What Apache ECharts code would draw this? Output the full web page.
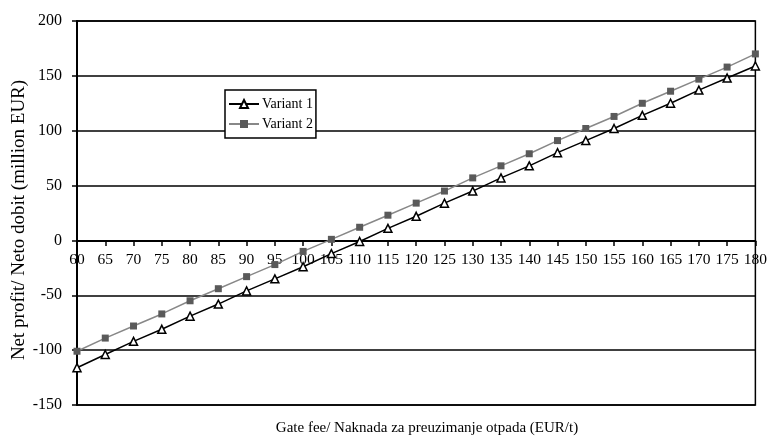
<!DOCTYPE html>
<html>
<head>
<meta charset="utf-8">
<script src="https://cdn.jsdelivr.net/npm/echarts@6/dist/echarts.min.js"></script>
<style>html,body{margin:0;padding:0;background:#fff}#c{width:770px;height:438px}</style>
</head>
<body>
<div id="c"></div>
<script>
const categories = ['60','65','70','75','80','85','90','95','100','105','110','115','120','125','130','135','140','145','150','155','160','165','170','175','180'];
const variant1 = [-116,-104,-92,-81,-69,-58,-46,-35,-24,-12,-1,11,22,34,45,57,68,80,91,102,114,125,137,148,159];
const variant2 = [-101,-89,-78,-67,-55,-44,-33,-22,-10,1,12,23,34,45,57,68,79,91,102,113,125,136,147,158,170];
const yTicks = {min:-150, max:200, interval:50};
const xTitle = 'Gate fee/ Naknada za preuzimanje otpada (EUR/t)';
const yTitle = 'Net profit/ Neto dobit (million EUR)';

const font = 'Liberation Serif';
const chart = echarts.init(document.getElementById('c'), null, {renderer:'canvas'});
chart.setOption({
  animation:false,
  backgroundColor:'#fff',
  textStyle:{fontFamily:font,color:'#000'},
  grid:{left:77,right:11,top:21,bottom:33,show:true,borderColor:'#000',borderWidth:1.5,backgroundColor:'transparent'},
  title:{text:xTitle,left:422,textAlign:'center',top:416,textStyle:{fontFamily:font,fontSize:15,fontWeight:'normal',color:'#000'}},
  graphic:[{type:'text',x:19,y:220,rotation:Math.PI/2,
    style:{text:yTitle,fontFamily:font,fontSize:19,fill:'#000',textAlign:'center',textVerticalAlign:'middle',verticalAlign:'middle'}}],
  legend:{
    orient:'vertical',left:225,top:90,
    padding:[7,3,7,3],itemGap:6,itemWidth:30,itemHeight:10,
    backgroundColor:'#fff',borderColor:'#000',borderWidth:1.5,borderRadius:0,
    textStyle:{fontFamily:font,fontSize:14,color:'#000',padding:[0,0,0,-2]},
    data:['Variant 1','Variant 2']
  },
  xAxis:{
    type:'category',data:categories,boundaryGap:false,position:'bottom',offset:-164,
    axisLine:{onZero:false,lineStyle:{color:'#000',width:2}},
    axisTick:{show:true,length:5,lineStyle:{color:'#000',width:1.5}},
    axisLabel:{color:'#000',fontFamily:font,fontSize:15.5,margin:11,interval:0},
    splitLine:{show:false}
  },
  yAxis:{
    type:'value',min:yTicks.min,max:yTicks.max,interval:yTicks.interval,
    axisLine:{show:true,onZero:false,lineStyle:{color:'#000',width:2}},
    axisTick:{show:true,length:5,lineStyle:{color:'#000',width:1.5}},
    axisLabel:{color:'#000',fontFamily:font,fontSize:16,margin:15},
    splitLine:{show:true,lineStyle:{color:'#000',width:1.5}}
  },
  series:[
    {name:'Variant 1',type:'line',data:variant1,symbol:'triangle',symbolSize:8,
     lineStyle:{color:'#000',width:1.5},
     itemStyle:{color:'#fff',borderColor:'#000',borderWidth:1.5},z:3},
    {name:'Variant 2',type:'line',data:variant2,symbol:'rect',symbolSize:7,
     lineStyle:{color:'#888',width:1.5},
     itemStyle:{color:'#5a5a5a',borderColor:'#5a5a5a',borderWidth:0},z:2}
  ]
});
</script>
</body>
</html>
